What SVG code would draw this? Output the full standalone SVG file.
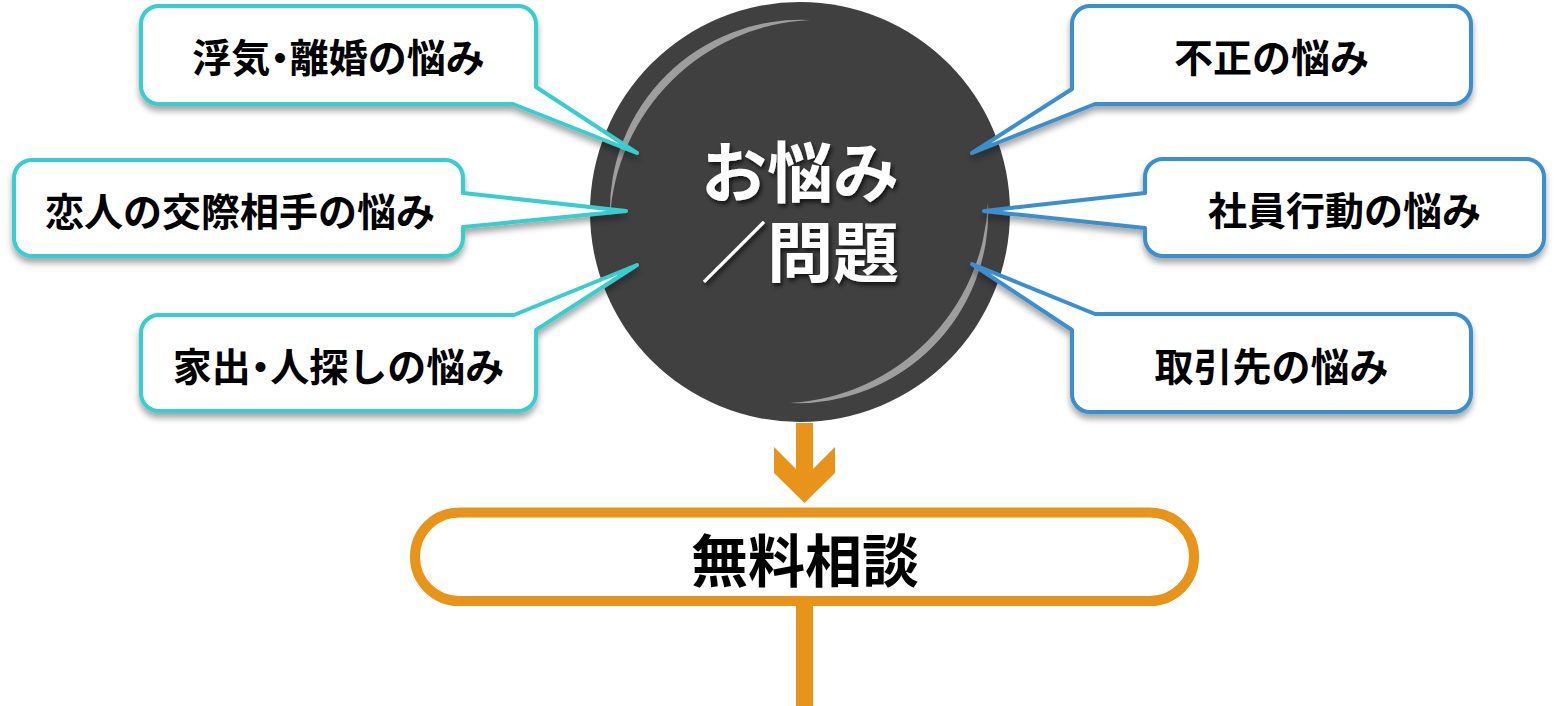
<svg xmlns="http://www.w3.org/2000/svg" width="1560" height="706" viewBox="0 0 1560 706">
<defs>
<filter id="shadow" x="-10%" y="-20%" width="120%" height="150%">
<feDropShadow dx="0" dy="5" stdDeviation="3" flood-color="#000" flood-opacity="0.35"/>
</filter>
<filter id="tshadow" x="-10%" y="-20%" width="120%" height="150%">
<feDropShadow dx="2" dy="3" stdDeviation="2" flood-color="#000" flood-opacity="0.7"/>
</filter>
<style>
.teal{fill:#fff;stroke:#37CDCF;stroke-width:4;stroke-linejoin:round;filter:url(#shadow)}
.blue{fill:#fff;stroke:#3A8FCF;stroke-width:4;stroke-linejoin:round;filter:url(#shadow)}
.lbl{font-family:"Noto Sans CJK JP","Noto Sans CJK SC",sans-serif;font-weight:700;font-size:39px;fill:#000;text-anchor:middle;dominant-baseline:central}
.big{font-family:"Noto Sans CJK JP","Noto Sans CJK SC",sans-serif;font-weight:700;font-size:66px;fill:#fff;text-anchor:middle;dominant-baseline:central;filter:url(#tshadow)}
.half{font-feature-settings:"halt"}
.orange{fill:#E8931A}
.hl{fill:#9e9e9e}
</style>
</defs>

<g id="center">
<circle cx="800" cy="212" r="210" fill="#404040"/>
<path class="hl" d="M610,218 A191,191 0 0 1 810,20 A210,210 0 0 0 610,218 Z"/>
<path class="hl" d="M988,203 A191,191 0 0 1 790,403 A210,210 0 0 0 988,203 Z"/>
<text class="big" x="800" y="168"><tspan x="800" y="168">お悩み</tspan><tspan x="800" y="248">／問題</tspan></text>
</g>

<g id="connectors">
<polygon class="orange" points="796,423 813,423 813,469 835,447 835,473 804.5,503 774,473 774,447 796,469"/>
<rect class="orange" x="796" y="606" width="17" height="100"/>
</g>

<g id="node-uwaki">
<path class="teal" d="M159,6 H518 A18,18 0 0 1 536,24 V87 L637,153 L513,104 H159 A18,18 0 0 1 141,86 V24 A18,18 0 0 1 159,6 Z"/>
<text class="lbl" x="338.5" y="55">浮気<tspan class="half">・</tspan>離婚の悩み</text>
</g>

<g id="node-koibito">
<path class="teal" d="M32,160 H445 A18,18 0 0 1 463,178 V193 L626,211 L463,227 V238 A18,18 0 0 1 445,256 H32 A18,18 0 0 1 14,238 V178 A18,18 0 0 1 32,160 Z"/>
<text class="lbl" x="240" y="209">恋人の交際相手の悩み</text>
</g>

<g id="node-iede">
<path class="teal" d="M159,315 H514 L637,265 L536,330 V393 A18,18 0 0 1 518,411 H159 A18,18 0 0 1 141,393 V333 A18,18 0 0 1 159,315 Z"/>
<text class="lbl" x="338.5" y="364">家出<tspan class="half">・</tspan>人探しの悩み</text>
</g>

<g id="node-fusei">
<path class="blue" d="M1090,6 H1453 A18,18 0 0 1 1471,24 V86 A18,18 0 0 1 1453,104 H1095 L972,153 L1072,89 V24 A18,18 0 0 1 1090,6 Z"/>
<text class="lbl" x="1271.5" y="55">不正の悩み</text>
</g>

<g id="node-shain">
<path class="blue" d="M1163,159 H1526 A18,18 0 0 1 1544,177 V238 A18,18 0 0 1 1526,256 H1163 A18,18 0 0 1 1145,238 V228 L984,211 L1145,193 V177 A18,18 0 0 1 1163,159 Z"/>
<text class="lbl" x="1344.5" y="208">社員行動の悩み</text>
</g>

<g id="node-torihiki">
<path class="blue" d="M1095,314 H1453 A18,18 0 0 1 1471,332 V394 A18,18 0 0 1 1453,412 H1090 A18,18 0 0 1 1072,394 V330 L972,264 Z"/>
<text class="lbl" x="1271.5" y="364">取引先の悩み</text>
</g>

<g id="node-muryo">
<rect x="415" y="512.5" width="779" height="88.5" rx="44" ry="44" fill="#fff" stroke="#E8931A" stroke-width="10"/>
<text class="lbl" x="805" y="557" style="font-size:57px">無料相談</text>
</g>
</svg>
